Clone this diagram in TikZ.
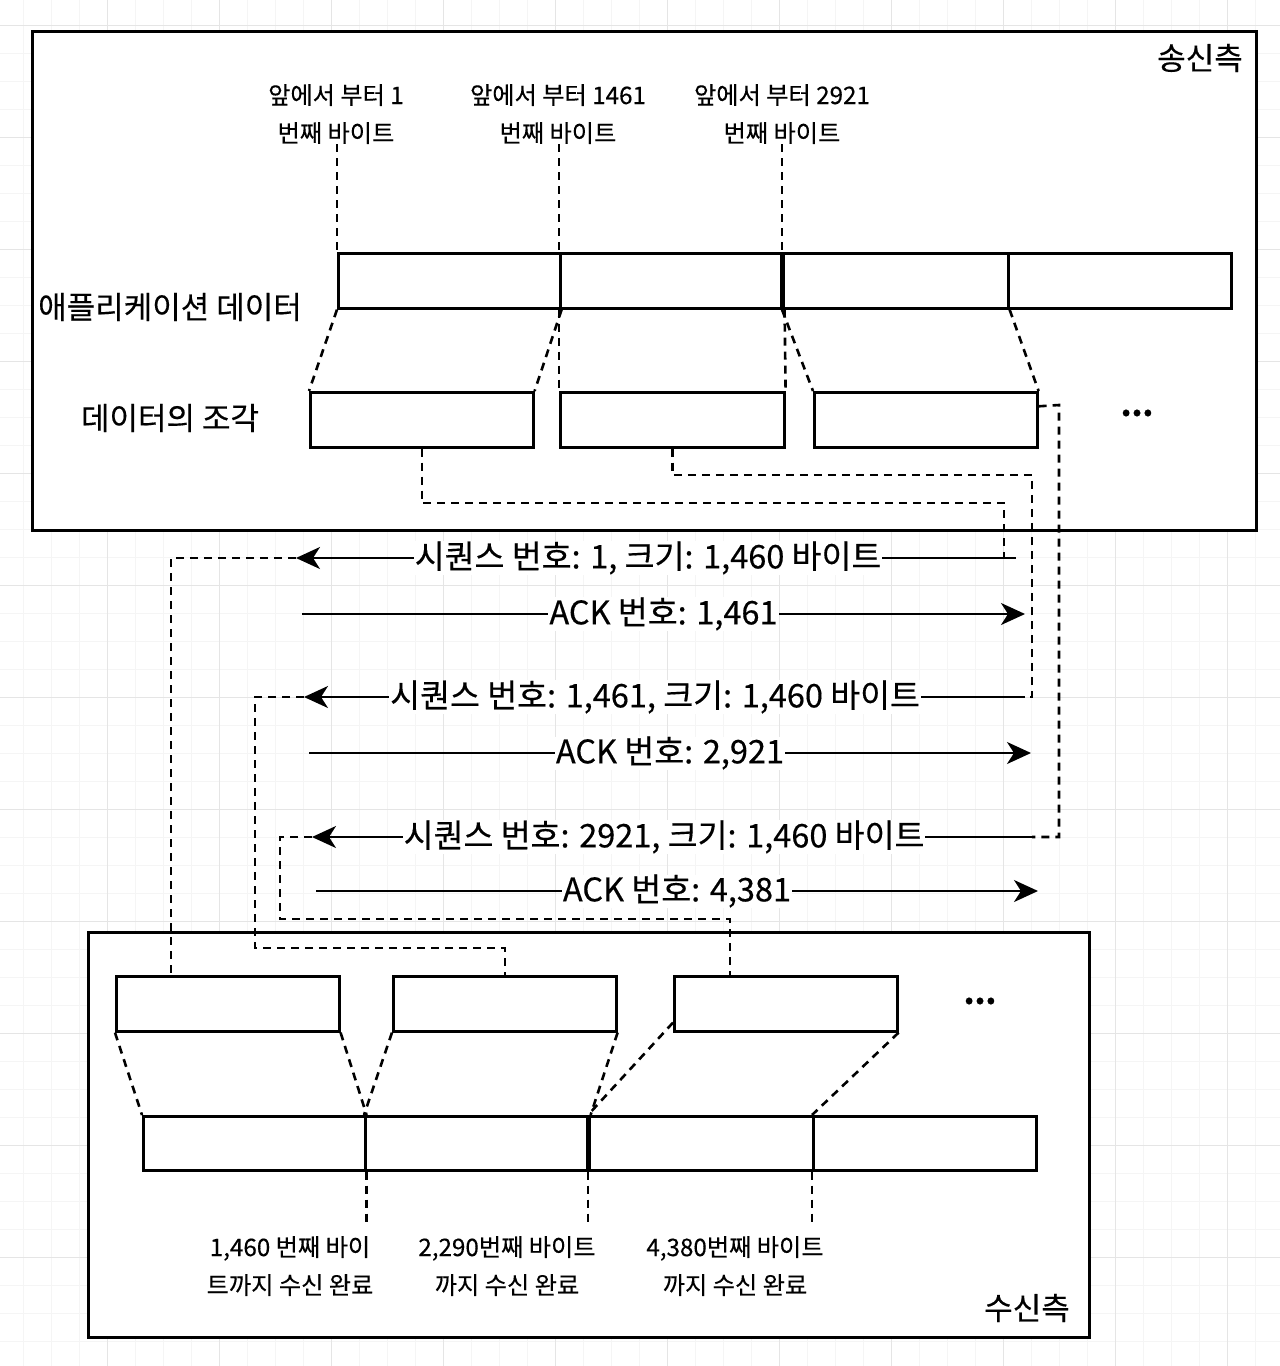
\documentclass[tikz,border=0pt]{standalone}
\usepackage{fontspec}
\setmainfont{Noto Sans CJK KR}[FakeBold=0.35]
\usetikzlibrary{arrows.meta}
\begin{document}
\begin{tikzpicture}[x=1pt,y=-1pt,
  box/.style={draw=black, line width=2.6pt, fill=white, inner sep=0pt, anchor=north west},
  frame/.style={draw=black, line width=2.6pt, fill=white, inner sep=0pt, anchor=north west},
  dsh/.style={draw=black, line width=2.6pt, dash pattern=on 8pt off 6pt},
  arr/.style={draw=black, line width=2.2pt, -{Stealth[length=24pt,width=22pt,inset=7pt]}},
  big/.style={font=\fontsize{31}{36}\selectfont, inner sep=0pt},
  small/.style={font=\fontsize{24.2}{38}\selectfont, align=center, inner sep=0pt},
  alabel/.style={font=\fontsize{32.5}{38}\selectfont, fill=white, inner xsep=1pt, inner ysep=0pt},
  gridminor/.style={draw=black!4, line width=1pt},
  gridmajor/.style={draw=black!10, line width=1pt},
]
\useasboundingbox[fill=white] (0,0) rectangle (1280,1366);
% background grid
\foreach \gx in {23,51,...,1280} \draw[gridminor] (\gx,0) -- (\gx,1366);
\foreach \gy in {25,53,...,1366} \draw[gridminor] (0,\gy) -- (1280,\gy);
\foreach \gx in {107,219,...,1280} \draw[gridmajor] (\gx,0) -- (\gx,1366);
\foreach \gy in {25,137,...,1366} \draw[gridmajor] (0,\gy) -- (1280,\gy);

% frames
\node[frame, minimum width=1224pt, minimum height=499pt] (snd) at (31,30) {};
\node[frame, minimum width=1001pt, minimum height=405pt] (rcv) at (87,931) {};
\node[big] (sndt) at (1200,58) {송신측};
\node[big] (rcvt) at (1027,1308) {수신측};

% sender application data bar
\node[box, minimum width=222pt, minimum height=55pt] (a1) at (337,252) {};
\node[box, minimum width=223pt, minimum height=55pt] (a2) at (559,252) {};
\node[box, minimum width=225pt, minimum height=55pt] (a3) at (782,252) {};
\node[box, minimum width=223pt, minimum height=55pt] (a4) at (1007,252) {};
\draw[line width=4.5pt] (a3.north west) -- (a3.south west);
\node[big] (appt) at (170,307) {애플리케이션 데이터};

% fragments
\node[box, minimum width=223pt, minimum height=55pt] (f1) at (309,391) {};
\node[box, minimum width=224pt, minimum height=55pt] (f2) at (559,391) {};
\node[box, minimum width=223pt, minimum height=55pt] (f3) at (813,391) {};
\node[big] (fragt) at (170,418) {데이터의 조각};
\node[big, font=\fontsize{31}{36}\bfseries] (dots1) at (1137,413) {...};

% top labels
\node[small] (t1) at (336,114) {앞에서 부터 1\\번째 바이트};
\node[small] (t2) at (558,114) {앞에서 부터 1461\\번째 바이트};
\node[small] (t3) at (782,114) {앞에서 부터 2921\\번째 바이트};
\draw[dsh] (a1.north west |- t1.south) -- (a1.north west);
\draw[dsh] (a2.north west |- t2.south) -- (a2.north west);
\draw[dsh] (a3.north west |- t3.south) -- (a3.north west);

% sender slanted
\draw[dsh] (a1.south west) -- (f1.north west);
\draw[dsh] (a1.south east) -- (f1.north east);
\draw[dsh] (a2.south west) -- (f2.north west);
\draw[dsh] (a2.south east) -- (f2.north east);
\draw[dsh] (a3.south west) -- (f3.north west);
\draw[dsh] (a3.south east) -- (f3.north east);

% receiver boxes
\node[box, minimum width=223pt, minimum height=55pt] (r1) at (115,975) {};
\node[box, minimum width=223pt, minimum height=55pt] (r2) at (392,975) {};
\node[box, minimum width=223pt, minimum height=55pt] (r3) at (673,975) {};
\node[big, font=\fontsize{31}{36}\bfseries] (dots2) at (980,1001) {...};

% receiver bar
\node[box, minimum width=222pt, minimum height=54pt] (b1) at (142,1115) {};
\node[box, minimum width=224pt, minimum height=54pt] (b2) at (364,1115) {};
\node[box, minimum width=224pt, minimum height=54pt] (b3) at (588,1115) {};
\node[box, minimum width=223pt, minimum height=54pt] (b4) at (812,1115) {};
\draw[line width=4.5pt] (b3.north west) -- (b3.south west);

% receiver slanted
\draw[dsh] (r1.south west) -- (b1.north west);
\draw[dsh] (r1.south east) -- (b1.north east);
\draw[dsh] (r2.south west) -- (b2.north west);
\draw[dsh] (r2.south east) -- (b2.north east);
\draw[dsh] ([yshift=10pt]r3.south west) -- (b3.north west);
\draw[dsh] (r3.south east) -- (b4.north west);

% bottom labels
\node[small] (u1) at (290,1266) {1,460 번째 바이\\트까지 수신 완료};
\node[small] (u2) at (507,1266) {2,290번째 바이트\\까지 수신 완료};
\node[small] (u3) at (735,1266) {4,380번째 바이트\\까지 수신 완료};
\draw[dsh] (b1.south east) -- (b1.south east |- 0,1226);
\draw[dsh] (b3.south west) -- (b3.south west |- 0,1226);
\draw[dsh] (b4.south west) -- (b4.south west |- 0,1226);

% arrow end points
\coordinate (s1r) at (1016,558); \coordinate (s1l) at (296,558);
\coordinate (k1l) at (302,614);  \coordinate (k1r) at (1025,614);
\coordinate (s2r) at (1025,697); \coordinate (s2l) at (304,697);
\coordinate (k2l) at (309,753);  \coordinate (k2r) at (1031,753);
\coordinate (s3r) at (1032,837); \coordinate (s3l) at (312,837);
\coordinate (k3l) at (316,891);  \coordinate (k3r) at (1038,891);

% routing corners
\coordinate (c1a) at (1004,503); \coordinate (c1b) at (171,558);
\coordinate (c2a) at (1032,475); \coordinate (c2b) at (255,697); \coordinate (c2c) at (255,948);
\coordinate (c3a) at (1059,405); \coordinate (c3b) at (280,837); \coordinate (c3c) at (280,919); \coordinate (c3d) at (730,919);

% routes
\draw[dsh] (f1.south) |- (c1a) -- (c1a |- s1r);
\draw[dsh] (s1l) -- (c1b) -- (c1b |- r1.north);
\draw[dsh] (f2.south) |- (c2a) -- (c2a |- s2r) -- (s2r);
\draw[dsh] (s2l) -- (c2b) -- (c2c) -| (r2.north);
\draw[dsh] ([yshift=13.5pt]f3.east) -- (c3a) -- (c3a |- s3r) -- (s3r);
\draw[dsh] (s3l) -- (c3b) -- (c3c) -- (c3d) -- (c3d |- r3.north);

% arrows
\draw[arr] (s1r) -- node[alabel, pos=0.511] (s1t) {시퀀스 번호: 1, 크기: 1,460 바이트} (s1l);
\draw[arr] (k1l) -- node[alabel] (k1t) {ACK 번호: 1,461} (k1r);
\draw[arr] (s2r) -- node[alabel, pos=0.513] (s2t) {시퀀스 번호: 1,461, 크기: 1,460 바이트} (s2l);
\draw[arr] (k2l) -- node[alabel] (k2t) {ACK 번호: 2,921} (k2r);
\draw[arr] (s3r) -- node[alabel, pos=0.511] (s3t) {시퀀스 번호: 2921, 크기: 1,460 바이트} (s3l);
\draw[arr] (k3l) -- node[alabel] (k3t) {ACK 번호: 4,381} (k3r);
\end{tikzpicture}
\end{document}
